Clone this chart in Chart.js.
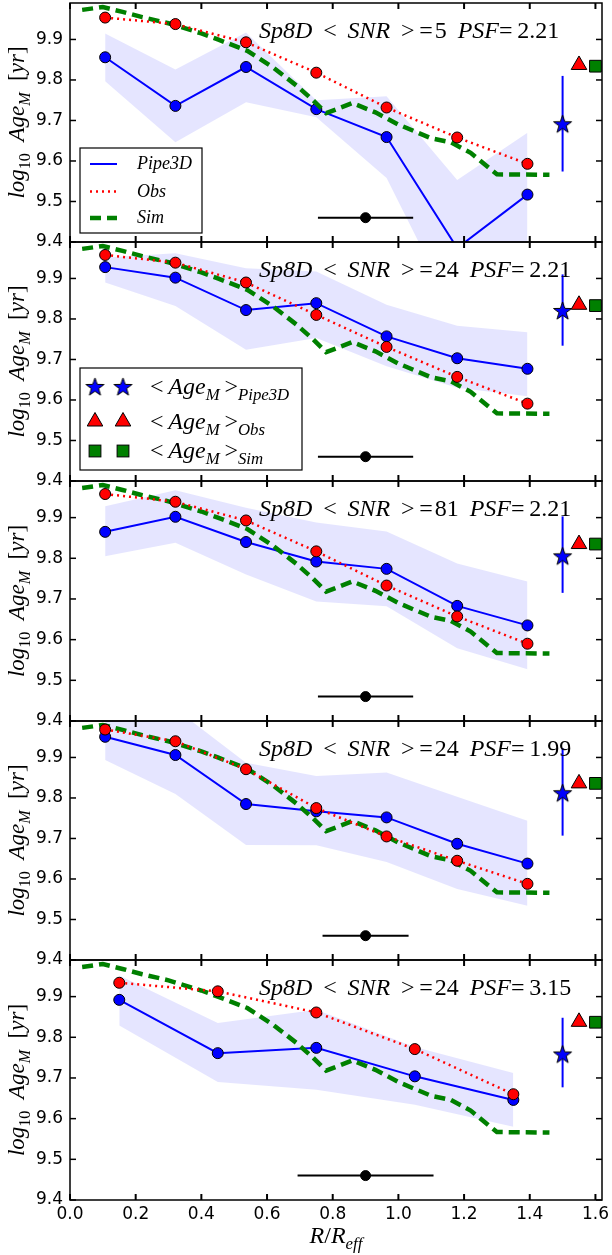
<!DOCTYPE html>
<html>
<head>
<meta charset="utf-8">
<script src="https://cdn.jsdelivr.net/npm/chart.js@4.4.1/dist/chart.umd.min.js"></script>
<style>
  html, body { margin: 0; padding: 0; background: #fff; }
  #figure { position: relative; width: 612px; height: 1255px; background: #fff; overflow: hidden; }
  #figure canvas { position: absolute; left: 0; }
</style>
</head>
<body>
<div id="figure"></div>
<script>
// Radial bins (R / R_eff)
const radiusBins7 = [0.107, 0.321, 0.536, 0.75, 0.964, 1.179, 1.393];  // Panels 1-4
const radiusBins5 = [0.15, 0.45, 0.75, 1.05, 1.35];                    // Panel 5

// Input (simulated) age profile, same in every panel
const simRadius = [0.037, 0.1, 0.16, 0.22, 0.3, 0.4, 0.45, 0.54, 0.62, 0.69, 0.74, 0.78, 0.86, 0.93, 1.0, 1.1, 1.16, 1.22, 1.3, 1.46];
const simAge    = [9.973, 9.98, 9.968, 9.955, 9.94, 9.915, 9.9, 9.872, 9.83, 9.786, 9.75, 9.718, 9.743, 9.72, 9.69, 9.656, 9.646, 9.62, 9.567, 9.566];

// Panel settings
const panelSNR = [5, 24, 81, 24, 24];
const panelPSF = [2.21, 2.21, 2.21, 1.99, 3.15];

// Pipe3D recovered profiles
const pipeAge1 = [9.856, 9.736, 9.832, 9.728, 9.659, 9.385, 9.517];
const pipeAge2 = [9.928, 9.902, 9.822, 9.839, 9.757, 9.703, 9.677];
const pipeAge3 = [9.865, 9.902, 9.84, 9.792, 9.774, 9.683, 9.635];
const pipeAge4 = [9.951, 9.906, 9.785, 9.767, 9.752, 9.687, 9.638];
const pipeAge5 = [9.892, 9.761, 9.774, 9.704, 9.646];

// Pipe3D dispersion band (upper / lower)
const pipeHigh1 = [9.915, 9.826, 9.917, 9.75, 9.76, 9.553, 9.67];
const pipeLow1  = [9.797, 9.646, 9.745, 9.708, 9.558, 9.21, 9.30];
const pipeHigh2 = [9.952, 9.962, 9.925, 9.917, 9.835, 9.783, 9.767];
const pipeLow2  = [9.89, 9.832, 9.724, 9.753, 9.683, 9.63, 9.609];
const pipeHigh3 = [9.928, 9.967, 9.924, 9.888, 9.866, 9.787, 9.743];
const pipeLow3  = [9.805, 9.838, 9.76, 9.694, 9.682, 9.579, 9.527];
const pipeHigh4 = [10.0, 10.02, 9.887, 9.854, 9.863, 9.803, 9.744];
const pipeLow4  = [9.894, 9.81, 9.684, 9.683, 9.642, 9.575, 9.534];
const pipeHigh5 = [9.952, 9.835, 9.868, 9.776, 9.712];
const pipeLow5  = [9.829, 9.69, 9.671, 9.634, 9.58];

// Observed profiles
const obsAge1 = [9.954, 9.938, 9.893, 9.818, 9.732, 9.658, 9.593];
const obsAge2 = [9.958, 9.939, 9.89, 9.81, 9.731, 9.657, 9.591];
const obsAge3 = [9.958, 9.939, 9.893, 9.817, 9.733, 9.657, 9.59];
const obsAge4 = [9.969, 9.94, 9.871, 9.775, 9.705, 9.645, 9.588];
const obsAge5 = [9.934, 9.913, 9.861, 9.771, 9.66];

// Mean ages (Pipe3D with error, Obs, Sim) and where they sit on the x axis
const meanPipe     = [9.692, 9.821, 9.806, 9.813, 9.759];
const meanPipeLow  = [9.574, 9.734, 9.715, 9.707, 9.677];
const meanPipeHigh = [9.81, 9.91, 9.903, 9.923, 9.848];
const meanObs      = [9.837, 9.835, 9.835, 9.836, 9.838];
const meanSim      = [9.834, 9.833, 9.835, 9.836, 9.837];
const meanRadius   = [1.5, 1.55, 1.6];

// PSF size marker (centre, level, half width per panel)
const psfCenter = 0.9;
const psfLevel = 9.46;
const psfHalfWidth = [0.145, 0.145, 0.145, 0.131, 0.207];

// Table of panels built from the arrays above
const panels = [
  { radius: radiusBins7, pipe: pipeAge1, high: pipeHigh1, low: pipeLow1, obs: obsAge1 },
  { radius: radiusBins7, pipe: pipeAge2, high: pipeHigh2, low: pipeLow2, obs: obsAge2 },
  { radius: radiusBins7, pipe: pipeAge3, high: pipeHigh3, low: pipeLow3, obs: obsAge3 },
  { radius: radiusBins7, pipe: pipeAge4, high: pipeHigh4, low: pipeLow4, obs: obsAge4 },
  { radius: radiusBins5, pipe: pipeAge5, high: pipeHigh5, low: pipeLow5, obs: obsAge5 },
];

/* Layout */
const FIG_H = 1255;
const PAD = 12;                                  // Room above / below each plot area for tick labels
const panelEdges = [3, 242, 481, 721, 960, 1200]; // Top of each plot area (last value: bottom of the figure)
const MATH_FONT = '"Liberation Serif", "Times New Roman", serif';
const TICK_FONT = { family: 'DejaVu Sans', size: 17 };

const BLUE = '#0000ff';
const RED = '#ff0000';
const GREEN = '#008000';

function xy(xs, ys) {
  // Pairs two arrays into {x, y} points.
  return xs.map((x, k) => ({ x, y: ys[k] }));
}

function makeStar(r, color) {
  // Filled five-point star used as point style.
  const size = Math.ceil(r * 2 + 4);
  const c = document.createElement('canvas');
  c.width = size; c.height = size;
  const g = c.getContext('2d');
  g.translate(size / 2, size / 2 + r * 0.1);
  g.beginPath();
  for (let k = 0; k < 10; k++) {
    const ang = -Math.PI / 2 + k * Math.PI / 5;
    const rr = k % 2 ? r * 0.4 : r;
    g.lineTo(Math.cos(ang) * rr, Math.sin(ang) * rr);
  }
  g.closePath();
  g.fillStyle = color; g.fill();
  g.lineWidth = 1; g.strokeStyle = '#000'; g.stroke();
  return c;
}
const starImg = makeStar(9.5, BLUE);

function mathFont(style, size) {
  const italic = style[0] === 'i';
  const sub = style.endsWith('s');
  return `${italic ? 'italic ' : ''}${sub ? size * 0.7 : size}px ${MATH_FONT}`;
}

function drawMath(ctx, parts, x, y, size, align) {
  // Draws a row of text pieces: 'i' italic, 'r' roman, a trailing 's' makes it a subscript.
  let w = 0;
  parts.forEach(([t, s]) => { ctx.font = mathFont(s, size); w += ctx.measureText(t).width; });
  let cx = align === 'center' ? x - w / 2 : x;
  ctx.textAlign = 'left';
  ctx.textBaseline = 'alphabetic';
  ctx.fillStyle = '#000';
  parts.forEach(([t, s]) => {
    ctx.font = mathFont(s, size);
    ctx.fillText(t, cx, y + (s.endsWith('s') ? size * 0.25 : 0));
    cx += ctx.measureText(t).width;
  });
}

function drawMarker(ctx, kind, x, y) {
  // Legend copies of the mean-value markers.
  ctx.save();
  ctx.lineWidth = 1;
  ctx.strokeStyle = '#000';
  if (kind === 'star') {
    ctx.drawImage(starImg, x - starImg.width / 2, y - starImg.height / 2);
  } else if (kind === 'triangle') {
    const r = 9;
    ctx.beginPath();
    ctx.moveTo(x, y - r);
    ctx.lineTo(x + r * Math.sin(2 * Math.PI / 3), y - r * Math.cos(2 * Math.PI / 3));
    ctx.lineTo(x + r * Math.sin(4 * Math.PI / 3), y - r * Math.cos(4 * Math.PI / 3));
    ctx.closePath();
    ctx.fillStyle = RED; ctx.fill(); ctx.stroke();
  } else {
    const h = 5.9;
    ctx.fillStyle = GREEN;
    ctx.fillRect(x - h, y - h, 2 * h, 2 * h);
    ctx.strokeRect(x - h, y - h, 2 * h, 2 * h);
  }
  ctx.restore();
}

function line(ctx, x1, y1, x2, y2) {
  ctx.beginPath(); ctx.moveTo(x1, y1); ctx.lineTo(x2, y2); ctx.stroke();
}

// Plugin drawing frame, inward ticks, annotation, legends and axis titles
const framePlugin = {
  id: 'frame',
  afterDatasetsDraw(chart, args, opts) {
    const { ctx, chartArea: a, scales: { x, y } } = chart;
    const i = opts.panel;

    ctx.save();
    ctx.strokeStyle = '#000';
    ctx.lineWidth = 2;
    x.ticks.forEach((t) => {
      const px = x.getPixelForValue(t.value);
      line(ctx, px, a.top, px, a.top + 6);
      line(ctx, px, a.bottom, px, a.bottom - 6);
    });
    ctx.lineWidth = 1.5;
    y.ticks.forEach((t) => {
      const py = y.getPixelForValue(t.value);
      line(ctx, a.left, py, a.left + 6, py);
      line(ctx, a.right, py, a.right - 6, py);
    });
    ctx.lineWidth = 1.5;
    ctx.strokeRect(a.left, a.top, a.right - a.left, a.bottom - a.top);

    // Panel annotation
    drawMath(ctx, [
      ['Sp8D', 'i'], [' \u2009<\u2009 ', 'r'], ['SNR', 'i'], [' \u2009>\u2009=\u200a', 'r'],
      [String(panelSNR[i]), 'r'], [' \u2009', 'r'], ['PSF', 'i'], ['=\u2009' + panelPSF[i].toFixed(2), 'r'],
    ], 259, a.top + 35, 24);

    // Legends
    if (i === 0) {
      const bx = a.left + 10, by = a.top + 145;
      ctx.fillStyle = '#fff';
      ctx.fillRect(bx, by, 122, 85);
      ctx.lineWidth = 1.2;
      ctx.strokeRect(bx, by, 122, 85);
      const rows = [
        { label: 'Pipe3D', color: BLUE, width: 2, dash: [] },
        { label: 'Obs', color: RED, width: 2.5, dash: [2, 4] },
        { label: 'Sim', color: GREEN, width: 4.5, dash: [11, 6] },
      ];
      const rowY = [16, 43.5, 70];
      rows.forEach((r, k) => {
        ctx.strokeStyle = r.color;
        ctx.lineWidth = r.width;
        ctx.setLineDash(r.dash);
        line(ctx, bx + 10, by + rowY[k], bx + 37, by + rowY[k]);
        ctx.setLineDash([]);
        drawMath(ctx, [[r.label, 'i']], bx + 57, by + rowY[k] + 5, 18);
      });
    }
    if (i === 1) {
      const bx = a.left + 10, by = a.top + 126;
      ctx.fillStyle = '#fff';
      ctx.fillRect(bx, by, 222, 102);
      ctx.lineWidth = 1.2;
      ctx.strokeStyle = '#000';
      ctx.strokeRect(bx, by, 222, 102);
      const rows = [['star', 'Pipe3D'], ['triangle', 'Obs'], ['square', 'Sim']];
      const rowY = [18.5, 53.5, 83];
      rows.forEach(([kind, label], k) => {
        drawMarker(ctx, kind, bx + 15, by + rowY[k]);
        drawMarker(ctx, kind, bx + 43, by + rowY[k]);
        drawMath(ctx, [['<\u2009', 'r'], ['Age', 'i'], ['M', 'is'], ['\u2009>', 'r'], [label, 'is']], bx + 70, by + rowY[k] + 7, 24);
      });
    }

    // Y axis title
    ctx.save();
    ctx.translate(24, (a.top + a.bottom) / 2);
    ctx.rotate(-Math.PI / 2);
    drawMath(ctx, [['log', 'i'], ['10', 'rs'], ['  Age', 'i'], ['M', 'is'], ['  [', 'r'], ['yr', 'i'], [']', 'r']], 0, 0, 23, 'center');
    ctx.restore();

    // X axis title
    if (i === panels.length - 1) {
      drawMath(ctx, [['R', 'i'], ['/', 'r'], ['R', 'i'], ['eff', 'is']], (a.left + a.right) / 2, a.bottom + 43, 24, 'center');
    }
    ctx.restore();
  },
};

function newPanel(i) {
  // Creates one stacked panel on its own canvas.
  const p = panels[i];
  const last = i === panels.length - 1;
  const top = panelEdges[i] - PAD;
  const height = last ? FIG_H - top : panelEdges[i + 1] - panelEdges[i] + 2 * PAD;

  const canvas = document.createElement('canvas');
  canvas.width = 612;
  canvas.height = height;
  canvas.style.top = top + 'px';
  document.getElementById('figure').appendChild(canvas);

  const datasets = [
    { // 0: band upper edge, filled to the lower edge
      data: xy(p.radius, p.high), showLine: true, borderColor: 'transparent', borderWidth: 0,
      pointRadius: 0, backgroundColor: 'rgba(0, 0, 255, 0.1)', fill: 1, order: 20,
    },
    { // 1: band lower edge
      data: xy(p.radius, p.low), showLine: true, borderColor: 'transparent', borderWidth: 0,
      pointRadius: 0, fill: false, order: 21,
    },
    { // Pipe3D
      data: xy(p.radius, p.pipe), showLine: true, borderColor: BLUE, borderWidth: 2,
      pointRadius: 5.5, pointBackgroundColor: BLUE, pointBorderColor: '#000', pointBorderWidth: 1,
      clip: 0, order: 12,
    },
    { // Sim
      data: xy(simRadius, simAge), showLine: true, borderColor: GREEN, borderWidth: 4.5,
      borderDash: [11, 6], pointRadius: 0, order: 11,
    },
    { // Obs
      data: xy(p.radius, p.obs), showLine: true, borderColor: RED, borderWidth: 2.5,
      borderDash: [2, 4], pointRadius: 5.5, pointBackgroundColor: RED, pointBorderColor: '#000',
      pointBorderWidth: 1, order: 10,
    },
    { // PSF bar
      data: [{ x: psfCenter - psfHalfWidth[i], y: psfLevel }, { x: psfCenter + psfHalfWidth[i], y: psfLevel }],
      showLine: true, borderColor: '#000', borderWidth: 2, pointRadius: 0, order: 6,
    },
    { // PSF centre
      data: [{ x: psfCenter, y: psfLevel }], pointRadius: 5, pointBackgroundColor: '#000',
      pointBorderColor: '#000', order: 5,
    },
    { // Mean Pipe3D error
      data: [{ x: meanRadius[0], y: meanPipeLow[i] }, { x: meanRadius[0], y: meanPipeHigh[i] }],
      showLine: true, borderColor: BLUE, borderWidth: 2, pointRadius: 0, order: 4,
    },
    { // Mean Pipe3D
      data: [{ x: meanRadius[0], y: meanPipe[i] }], pointStyle: starImg, pointRadius: 8, order: 3,
    },
    { // Mean Obs
      data: [{ x: meanRadius[1], y: meanObs[i] }], pointStyle: 'triangle', pointRadius: 9,
      pointBackgroundColor: RED, pointBorderColor: '#000', pointBorderWidth: 1, order: 2,
    },
    { // Mean Sim
      data: [{ x: meanRadius[2], y: meanSim[i] }], pointStyle: 'rect', pointRadius: 8.3,
      pointBackgroundColor: GREEN, pointBorderColor: '#000', pointBorderWidth: 1, order: 1,
    },
  ];

  const config = {
    type: 'scatter',
    data: { datasets },
    options: {
      animation: false,
      responsive: false,
      events: [],
      layout: { padding: { top: PAD, bottom: last ? 0 : PAD, left: 0, right: 5 } },
      plugins: {
        legend: { display: false },
        tooltip: { enabled: false },
        frame: { panel: i },
      },
      scales: {
        x: {
          type: 'linear', min: 0, max: 1.62,
          grid: { display: false, drawTicks: false },
          border: { display: false },
          ticks: {
            display: last, stepSize: 0.2, includeBounds: false, autoSkip: false, maxRotation: 0,
            font: TICK_FONT, color: '#000', padding: 4, callback: (v) => v.toFixed(1),
          },
          afterFit: (s) => { s.height = last ? FIG_H - panelEdges[5] : 0; s.paddingLeft = 0; s.paddingRight = 0; },
        },
        y: {
          type: 'linear', min: 9.4, max: 9.99,
          grid: { display: false, drawTicks: false },
          border: { display: false },
          ticks: {
            stepSize: 0.1, includeBounds: false, font: TICK_FONT, color: '#000', padding: 7,
            callback: (v) => v.toFixed(1),
          },
          afterFit: (s) => { s.width = 70; s.paddingTop = 0; s.paddingBottom = 0; },
        },
      },
    },
    plugins: [framePlugin],
  };

  return new Chart(canvas, config);
}

panels.forEach((p, i) => newPanel(i));
</script>
</body>
</html>
